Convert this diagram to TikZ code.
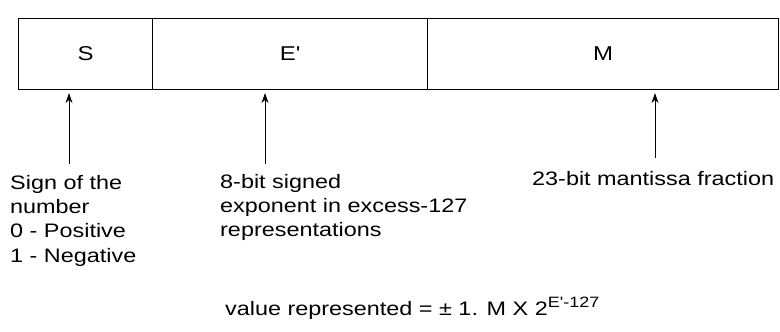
\documentclass[tikz,border=0pt]{standalone}
\usepackage{fontspec}
\newfontfamily\lib[FakeStretch=1.2]{Liberation Sans}
\usetikzlibrary{arrows.meta}
\begin{document}
\begin{tikzpicture}[x=1pt,y=-1pt,
  cell/.style={draw,line width=1.1pt,minimum height=71pt,inner sep=0pt,anchor=north west,font=\lib\fontsize{20}{24}\selectfont},
  lbl/.style={inner sep=0pt,anchor=north west,align=left,font=\lib\fontsize{19.5}{24.3}\selectfont},
  arr/.style={line width=0.8pt,shorten >=3pt,-{Stealth[length=10pt,width=7pt]}}]
\useasboundingbox (0,0) rectangle (780,332);
\node[cell,minimum width=134pt] (S) at (18,18) {S};
\node[cell,minimum width=275pt] (E) at (152,18) {E'};
\node[cell,minimum width=351pt] (M) at (427,18) {M};
\node[lbl] (sign) at (10,175) {Sign of the\\number\\0 - Positive\\1 - Negative};
\node[lbl] (exp) at (220,174) {8-bit signed\\exponent in excess-127\\representations};
\node[lbl] (man) at (532,171) {23-bit mantissa fraction};
\node[lbl,anchor=base west] (val) at (225,315) {value represented = ± 1. M X 2\raisebox{0.4em}{\fontsize{15}{15}\selectfont E'-127}};
\coordinate (a1) at (69,164);
\coordinate (a2) at (265,164);
\coordinate (a3) at (655,158);
\draw[arr] (a1) -- (a1 |- S.south);
\draw[arr] (a2) -- (a2 |- E.south);
\draw[arr] (a3) -- (a3 |- M.south);
\end{tikzpicture}
\end{document}
